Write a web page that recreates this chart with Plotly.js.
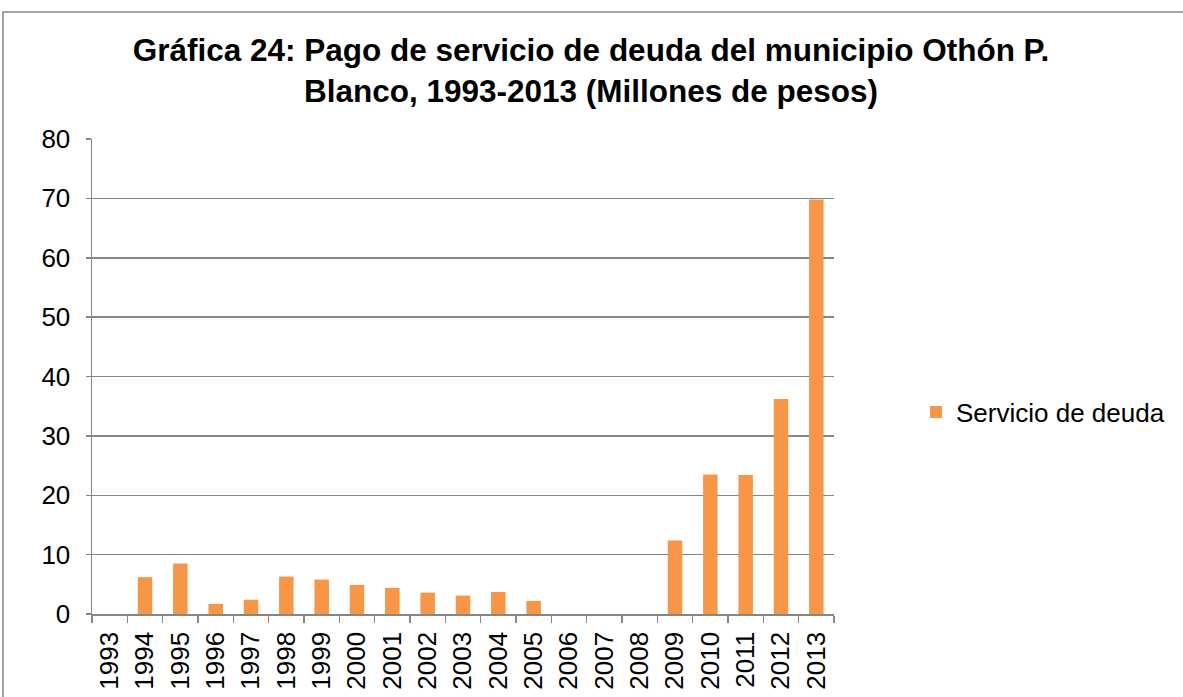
<!DOCTYPE html>
<html>
<head>
<meta charset="utf-8">
<script src="https://cdn.plot.ly/plotly-3.0.1.min.js"></script>
<style>body{margin:0;background:#fff;} #chart{width:1183px;height:697px;}</style>
</head>
<body>
<div id="chart"></div>
<script>
const years = ["1993","1994","1995","1996","1997","1998","1999","2000","2001","2002","2003","2004","2005","2006","2007","2008","2009","2010","2011","2012","2013"];
const servicioDeuda = [0, 6.2, 8.5, 1.7, 2.4, 6.3, 5.8, 4.9, 4.4, 3.6, 3.1, 3.7, 2.2, 0, 0, 0, 12.4, 23.5, 23.4, 36.2, 69.8];
const seriesName = "Servicio de deuda";
const titleText = "Gráfica 24: Pago de servicio de deuda del municipio Othón P.<br>Blanco, 1993-2013 (Millones de pesos)";

const L = 92, R = 834, T = 139, B = 614, W = 1183, H = 697;
const pw = R - L, ph = B - T;
const px = x => (x - L) / pw;
const py = y => (B - y) / ph;

const trace = {
  type: "bar",
  x: years,
  y: servicioDeuda,
  name: seriesName,
  marker: {color: "#F79646"},
  showlegend: true,
  hoverinfo: "x+y"
};

const layout = {
  width: W, height: H,
  margin: {l: L, r: W - R, t: T, b: H - B, pad: 0},
  paper_bgcolor: "#ffffff",
  plot_bgcolor: "#ffffff",
  font: {family: "Liberation Sans, Arial, sans-serif", color: "#000000", size: 26},
  title: {
    text: titleText,
    font: {family: "Liberation Sans, Arial, sans-serif", size: 31.5, color: "#000000", weight: "bold"},
    x: 591 / W, xanchor: "center",
    y: 1 - 61 / H, yanchor: "top", yref: "container"
  },
  bargap: 0.59,
  xaxis: {
    type: "category",
    tickangle: -90,
    tickfont: {size: 26},
    ticks: "outside", tickson: "boundaries", ticklen: 7, tickcolor: "#868686", tickwidth: 1.5,
    ticklabelstandoff: 6,
    showline: true, linecolor: "#868686", linewidth: 1.5,
    showgrid: false, zeroline: false, automargin: false
  },
  yaxis: {
    range: [0, 80], dtick: 10,
    tickfont: {size: 26},
    ticks: "outside", ticklen: 5, tickcolor: "#868686", tickwidth: 1.5,
    ticklabelstandoff: 10,
    showline: true, linecolor: "#868686", linewidth: 1.5,
    showgrid: true, gridcolor: "#868686", gridwidth: 1.5,
    zeroline: false, automargin: false
  },
  legend: {
    x: px(916), y: py(412), xanchor: "left", yanchor: "middle",
    font: {size: 26}, bgcolor: "rgba(0,0,0,0)", itemwidth: 30
  },
  shapes: [{
    type: "rect", xref: "paper", yref: "paper",
    x0: px(3), x1: px(1200), y0: py(710), y1: py(12),
    line: {color: "#868686", width: 1.5}, fillcolor: "rgba(0,0,0,0)", layer: "below"
  }]
};

Plotly.newPlot("chart", [trace], layout, {displayModeBar: false, staticPlot: true});
</script>
</body>
</html>
